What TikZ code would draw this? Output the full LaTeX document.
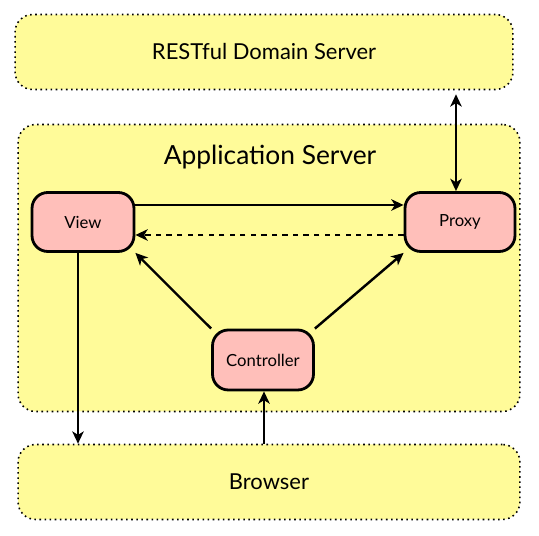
\documentclass[tikz,border=0pt]{standalone}
\usepackage{fontspec}
\setmainfont{Lato}
\usepackage{xcolor}
\usetikzlibrary{shapes.geometric, arrows.meta}
\definecolor{srvyellow}{RGB}{255,251,153}
\definecolor{comppink}{RGB}{255,191,186}
\tikzstyle{server} = [rectangle, rounded corners=10pt, text centered, draw=black, dotted, line width=0.9pt, fill=srvyellow]
\tikzstyle{component} = [rectangle, rounded corners=9pt, minimum height=1.18cm, text centered, draw=black, line width=1.6pt, fill=comppink, font=\fontsize{9.5}{11}\selectfont]
\tikzstyle{arrow} = [line width=1.4pt,->,>={Stealth[length=7pt,width=6.5pt,inset=2pt]}]

\begin{document}
\begin{tikzpicture}[x=0.02cm, y=-0.02cm]
			\useasboundingbox (0,0) rectangle (539,536);
			\node (rest) [server, minimum width=9.96cm, minimum height=1.5cm, font=\fontsize{12.5}{15}\selectfont] at (264,52) {RESTful Domain Server};
			\node (app) [server, minimum width=10.04cm, minimum height=5.74cm] at (269,268) {};
			\node (applabel) [font=\fontsize{15}{18}\selectfont] at (270,157) {Application Server};
			\node (browser) [server, minimum width=10.04cm, minimum height=1.5cm, font=\fontsize{12.5}{15}\selectfont] at (269,482) {Browser};

			\node (view) [component, minimum width=2.04cm] at (83,222) {View};
			\node (proxy) [component, minimum width=2.2cm] at (460,222) {Proxy};
			\node (ctrl) [component, minimum width=2.02cm, minimum height=1.2cm] at (263,360) {Controller};

			\draw [arrow] (view.east |- 0,205) -- (proxy.west |- 0,205);
			\draw [arrow, dashed] (proxy.west |- 0,235) -- (view.east |- 0,235);
			\draw [arrow] (ctrl.north west) -- (view.south east);
			\draw [arrow] (ctrl.north east) -- (proxy.south west);
			\draw [arrow] (view.south -| 78,0) -- (browser.north -| 78,0);
			\draw [arrow] (browser.north -| 264,0) -- (ctrl.south -| 264,0);
			\draw [arrow, <->] (rest.south -| 456,0) ++(0,4) -- (proxy.north -| 456,0);
		\end{tikzpicture}
\end{document}
